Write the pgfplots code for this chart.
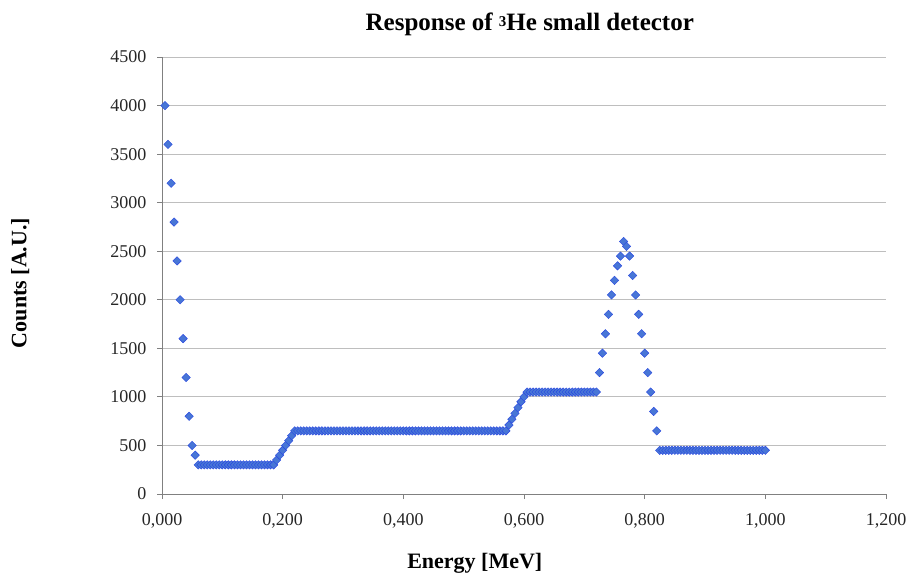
\documentclass[border=0pt]{standalone}
\usepackage{pgfplots}
\pgfplotsset{compat=1.18}
\usepackage{fontspec}
\setmainfont{Liberation Serif}

\definecolor{markfill}{RGB}{72,118,214}
\definecolor{markedge}{RGB}{40,70,225}
\definecolor{gridgray}{RGB}{190,190,190}
\definecolor{axisgray}{RGB}{128,128,128}

\begin{document}
\begin{tikzpicture}
\useasboundingbox (0,0) rectangle (912pt,576pt);
\begin{axis}[
  at={(162pt,82pt)}, anchor=south west,
  scale only axis, width=724pt, height=437pt,
  xmin=0, xmax=1.2, ymin=0, ymax=4500,
  xtick={0,0.2,0.4,0.6,0.8,1.0,1.2},
  ytick={0,500,...,4500},
  axis lines=left,
  axis line style={draw=axisgray, -},
  ymajorgrids, grid style={gridgray, line width=1pt},
  tick style={axisgray, line width=0.8pt},
  tick align=outside, major tick length=5pt,
  /pgf/number format/assume math mode=true,
  xticklabel style={yshift=-11pt, /pgf/number format/.cd, fixed, fixed zerofill, precision=3, use comma},
  yticklabel style={xshift=-7pt, /pgf/number format/.cd, 1000 sep={}},
  ticklabel style={font=\fontsize{18}{20}\selectfont, text=black!85},
  title={\textbf{Response of {\fontsize{15}{15}\selectfont\raisebox{0.55ex}{3}}He small detector}},
  title style={at={(0.508,1)}, anchor=center, yshift=27pt, font=\fontsize{25}{28}\selectfont},
  xlabel={\textbf{Energy [MeV]}},
  xlabel style={at={(0.432,0)}, anchor=center, yshift=-69pt, font=\fontsize{22}{25}\selectfont},
  ylabel={\textbf{Counts [A.U.]}},
  ylabel style={at={(-0.196,0.483)}, anchor=center, font=\fontsize{22}{25}\selectfont},
  clip=false,
]
\addplot[only marks, mark=square*, mark size=3pt,
  mark options={rotate=45, fill=markfill, draw=markedge, line width=0.4pt}]
coordinates {
(0.005,4000)(0.010,3600)(0.015,3200)(0.020,2800)(0.025,2400)(0.030,2000)
(0.035,1600)(0.040,1200)(0.045,800)(0.050,500)(0.055,400)
(0.060,300)(0.065,300)(0.070,300)(0.075,300)(0.080,300)(0.085,300)(0.090,300)
(0.095,300)(0.100,300)(0.105,300)(0.110,300)(0.115,300)(0.120,300)(0.125,300)
(0.130,300)(0.135,300)(0.140,300)(0.145,300)(0.150,300)(0.155,300)(0.160,300)
(0.165,300)(0.170,300)(0.175,300)(0.180,300)(0.185,300)
(0.190,350)(0.195,400)(0.200,450)(0.205,500)(0.210,550)(0.215,600)
(0.220,650)(0.225,650)(0.230,650)(0.235,650)(0.240,650)(0.245,650)(0.250,650)
(0.255,650)(0.260,650)(0.265,650)(0.270,650)(0.275,650)(0.280,650)(0.285,650)
(0.290,650)(0.295,650)(0.300,650)(0.305,650)(0.310,650)(0.315,650)(0.320,650)
(0.325,650)(0.330,650)(0.335,650)(0.340,650)(0.345,650)(0.350,650)(0.355,650)
(0.360,650)(0.365,650)(0.370,650)(0.375,650)(0.380,650)(0.385,650)(0.390,650)
(0.395,650)(0.400,650)(0.405,650)(0.410,650)(0.415,650)(0.420,650)(0.425,650)
(0.430,650)(0.435,650)(0.440,650)(0.445,650)(0.450,650)(0.455,650)(0.460,650)
(0.465,650)(0.470,650)(0.475,650)(0.480,650)(0.485,650)(0.490,650)(0.495,650)
(0.500,650)(0.505,650)(0.510,650)(0.515,650)(0.520,650)(0.525,650)(0.530,650)
(0.535,650)(0.540,650)(0.545,650)(0.550,650)(0.555,650)(0.560,650)(0.565,650)
(0.570,650)
(0.575,710)(0.580,770)(0.585,830)(0.590,890)(0.595,950)(0.600,1000)
(0.605,1050)(0.610,1050)(0.615,1050)(0.620,1050)(0.625,1050)(0.630,1050)
(0.635,1050)(0.640,1050)(0.645,1050)(0.650,1050)(0.655,1050)(0.660,1050)
(0.665,1050)(0.670,1050)(0.675,1050)(0.680,1050)(0.685,1050)(0.690,1050)
(0.695,1050)(0.700,1050)(0.705,1050)(0.710,1050)(0.715,1050)(0.720,1050)
(0.725,1250)(0.730,1450)(0.735,1650)(0.740,1850)(0.745,2050)(0.750,2200)
(0.755,2350)(0.760,2450)(0.765,2600)(0.770,2550)(0.775,2450)(0.780,2250)
(0.785,2050)(0.790,1850)(0.795,1650)(0.800,1450)(0.805,1250)(0.810,1050)
(0.815,850)(0.820,650)
(0.825,450)(0.830,450)(0.835,450)(0.840,450)(0.845,450)(0.850,450)(0.855,450)
(0.860,450)(0.865,450)(0.870,450)(0.875,450)(0.880,450)(0.885,450)(0.890,450)
(0.895,450)(0.900,450)(0.905,450)(0.910,450)(0.915,450)(0.920,450)(0.925,450)
(0.930,450)(0.935,450)(0.940,450)(0.945,450)(0.950,450)(0.955,450)(0.960,450)
(0.965,450)(0.970,450)(0.975,450)(0.980,450)(0.985,450)(0.990,450)(0.995,450)
(1.000,450)
};
\end{axis}
\end{tikzpicture}
\end{document}
